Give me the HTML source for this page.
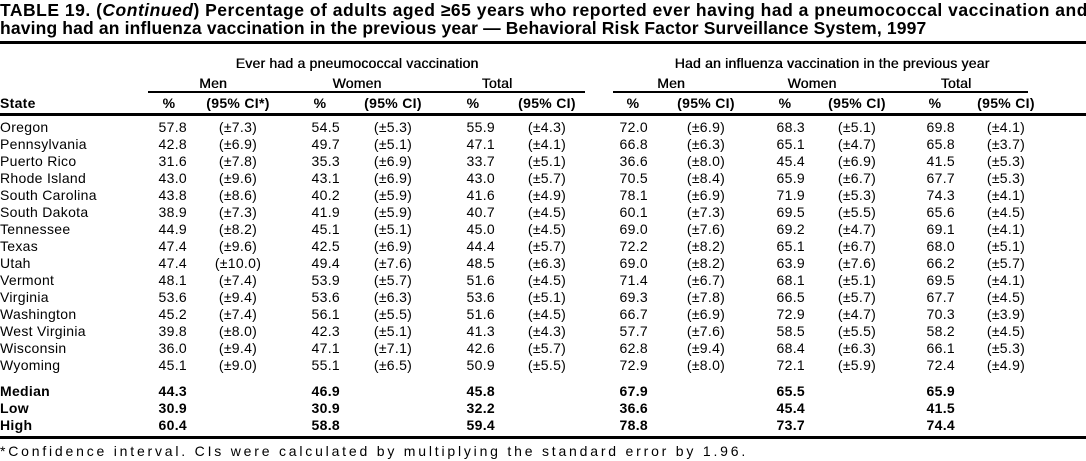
<!DOCTYPE html>
<html><head><meta charset="utf-8"><style>
body{margin:0;width:1086px;height:461px;overflow:hidden;background:#fff;font-family:"Liberation Sans",Arial,sans-serif;color:#000;position:relative}
.t{position:absolute;left:0;font-weight:bold;font-size:17.5px;white-space:nowrap;line-height:19px}
.rule{position:absolute;background:#000}
.r{position:absolute;left:0;width:1086px;height:17px;line-height:17px;font-size:14px;letter-spacing:0.3px;white-space:nowrap}
.r span{position:absolute;top:0}
.s{left:0}
.c1,.c2,.c3,.c4,.c5,.c6{width:50px;text-align:right}
.c1{left:137px}.c2{left:290px}.c3{left:445px}.c4{left:598px}.c5{left:755px}.c6{left:905px}
.d1,.d2,.d3,.d4,.d5,.d6{width:90px;text-align:center}
.d1{left:193px}.d2{left:348px}.d3{left:502px}.d4{left:661px}.d5{left:812px}.d6{left:961px}
.b{font-weight:bold}
.h{position:absolute;font-size:14px;white-space:nowrap;line-height:17px;text-align:center;letter-spacing:0.2px;text-shadow:0.4px 0 0 #000}
</style></head><body>
<div class="t" style="top:1px;letter-spacing:0.5px">TABLE 19. (<i>Continued</i>) Percentage of adults aged ≥65 years who reported ever having had a pneumococcal vaccination and</div>
<div class="t" style="top:19px;letter-spacing:0.15px">having had an influenza vaccination in the previous year — Behavioral Risk Factor Surveillance System, 1997</div>
<div class="rule" style="left:0;top:41px;width:1086px;height:3px"></div>

<div class="h" style="left:207px;width:300px;top:55px">Ever had a pneumococcal vaccination</div>
<div class="h" style="left:662px;width:340px;top:55px">Had an influenza vaccination in the previous year</div>
<div class="h" style="left:173px;width:80px;top:75px">Men</div>
<div class="h" style="left:317px;width:80px;top:75px">Women</div>
<div class="h" style="left:457px;width:80px;top:75px">Total</div>
<div class="h" style="left:631px;width:80px;top:75px">Men</div>
<div class="h" style="left:772px;width:80px;top:75px">Women</div>
<div class="h" style="left:916px;width:80px;top:75px">Total</div>
<div class="rule" style="left:148px;top:91px;width:437px;height:2px"></div>
<div class="rule" style="left:613px;top:91px;width:415px;height:2px"></div>

<div class="r b" style="top:95px"><span class="s">State</span>
<span class="c1" style="width:30px;left:154px;text-align:center">%</span><span class="d1">(95% CI*)</span>
<span class="c2" style="width:30px;left:305px;text-align:center">%</span><span class="d2">(95% CI)</span>
<span class="c3" style="width:30px;left:458px;text-align:center">%</span><span class="d3">(95% CI)</span>
<span class="c4" style="width:30px;left:618px;text-align:center">%</span><span class="d4">(95% CI)</span>
<span class="c5" style="width:30px;left:770px;text-align:center">%</span><span class="d5">(95% CI)</span>
<span class="c6" style="width:30px;left:920px;text-align:center">%</span><span class="d6">(95% CI)</span></div>
<div class="rule" style="left:0;top:113px;width:1086px;height:3px"></div>

<div class="r" style="top:119px"><span class="s">Oregon</span><span class="c1">57.8</span><span class="d1">(±7.3)</span><span class="c2">54.5</span><span class="d2">(±5.3)</span><span class="c3">55.9</span><span class="d3">(±4.3)</span><span class="c4">72.0</span><span class="d4">(±6.9)</span><span class="c5">68.3</span><span class="d5">(±5.1)</span><span class="c6">69.8</span><span class="d6">(±4.1)</span></div>
<div class="r" style="top:136px"><span class="s">Pennsylvania</span><span class="c1">42.8</span><span class="d1">(±6.9)</span><span class="c2">49.7</span><span class="d2">(±5.1)</span><span class="c3">47.1</span><span class="d3">(±4.1)</span><span class="c4">66.8</span><span class="d4">(±6.3)</span><span class="c5">65.1</span><span class="d5">(±4.7)</span><span class="c6">65.8</span><span class="d6">(±3.7)</span></div>
<div class="r" style="top:153px"><span class="s">Puerto Rico</span><span class="c1">31.6</span><span class="d1">(±7.8)</span><span class="c2">35.3</span><span class="d2">(±6.9)</span><span class="c3">33.7</span><span class="d3">(±5.1)</span><span class="c4">36.6</span><span class="d4">(±8.0)</span><span class="c5">45.4</span><span class="d5">(±6.9)</span><span class="c6">41.5</span><span class="d6">(±5.3)</span></div>
<div class="r" style="top:170px"><span class="s">Rhode Island</span><span class="c1">43.0</span><span class="d1">(±9.6)</span><span class="c2">43.1</span><span class="d2">(±6.9)</span><span class="c3">43.0</span><span class="d3">(±5.7)</span><span class="c4">70.5</span><span class="d4">(±8.4)</span><span class="c5">65.9</span><span class="d5">(±6.7)</span><span class="c6">67.7</span><span class="d6">(±5.3)</span></div>
<div class="r" style="top:187px"><span class="s">South Carolina</span><span class="c1">43.8</span><span class="d1">(±8.6)</span><span class="c2">40.2</span><span class="d2">(±5.9)</span><span class="c3">41.6</span><span class="d3">(±4.9)</span><span class="c4">78.1</span><span class="d4">(±6.9)</span><span class="c5">71.9</span><span class="d5">(±5.3)</span><span class="c6">74.3</span><span class="d6">(±4.1)</span></div>
<div class="r" style="top:204px"><span class="s">South Dakota</span><span class="c1">38.9</span><span class="d1">(±7.3)</span><span class="c2">41.9</span><span class="d2">(±5.9)</span><span class="c3">40.7</span><span class="d3">(±4.5)</span><span class="c4">60.1</span><span class="d4">(±7.3)</span><span class="c5">69.5</span><span class="d5">(±5.5)</span><span class="c6">65.6</span><span class="d6">(±4.5)</span></div>
<div class="r" style="top:221px"><span class="s">Tennessee</span><span class="c1">44.9</span><span class="d1">(±8.2)</span><span class="c2">45.1</span><span class="d2">(±5.1)</span><span class="c3">45.0</span><span class="d3">(±4.5)</span><span class="c4">69.0</span><span class="d4">(±7.6)</span><span class="c5">69.2</span><span class="d5">(±4.7)</span><span class="c6">69.1</span><span class="d6">(±4.1)</span></div>
<div class="r" style="top:238px"><span class="s">Texas</span><span class="c1">47.4</span><span class="d1">(±9.6)</span><span class="c2">42.5</span><span class="d2">(±6.9)</span><span class="c3">44.4</span><span class="d3">(±5.7)</span><span class="c4">72.2</span><span class="d4">(±8.2)</span><span class="c5">65.1</span><span class="d5">(±6.7)</span><span class="c6">68.0</span><span class="d6">(±5.1)</span></div>
<div class="r" style="top:255px"><span class="s">Utah</span><span class="c1">47.4</span><span class="d1">(±10.0)</span><span class="c2">49.4</span><span class="d2">(±7.6)</span><span class="c3">48.5</span><span class="d3">(±6.3)</span><span class="c4">69.0</span><span class="d4">(±8.2)</span><span class="c5">63.9</span><span class="d5">(±7.6)</span><span class="c6">66.2</span><span class="d6">(±5.7)</span></div>
<div class="r" style="top:272px"><span class="s">Vermont</span><span class="c1">48.1</span><span class="d1">(±7.4)</span><span class="c2">53.9</span><span class="d2">(±5.7)</span><span class="c3">51.6</span><span class="d3">(±4.5)</span><span class="c4">71.4</span><span class="d4">(±6.7)</span><span class="c5">68.1</span><span class="d5">(±5.1)</span><span class="c6">69.5</span><span class="d6">(±4.1)</span></div>
<div class="r" style="top:289px"><span class="s">Virginia</span><span class="c1">53.6</span><span class="d1">(±9.4)</span><span class="c2">53.6</span><span class="d2">(±6.3)</span><span class="c3">53.6</span><span class="d3">(±5.1)</span><span class="c4">69.3</span><span class="d4">(±7.8)</span><span class="c5">66.5</span><span class="d5">(±5.7)</span><span class="c6">67.7</span><span class="d6">(±4.5)</span></div>
<div class="r" style="top:306px"><span class="s">Washington</span><span class="c1">45.2</span><span class="d1">(±7.4)</span><span class="c2">56.1</span><span class="d2">(±5.5)</span><span class="c3">51.6</span><span class="d3">(±4.5)</span><span class="c4">66.7</span><span class="d4">(±6.9)</span><span class="c5">72.9</span><span class="d5">(±4.7)</span><span class="c6">70.3</span><span class="d6">(±3.9)</span></div>
<div class="r" style="top:323px"><span class="s">West Virginia</span><span class="c1">39.8</span><span class="d1">(±8.0)</span><span class="c2">42.3</span><span class="d2">(±5.1)</span><span class="c3">41.3</span><span class="d3">(±4.3)</span><span class="c4">57.7</span><span class="d4">(±7.6)</span><span class="c5">58.5</span><span class="d5">(±5.5)</span><span class="c6">58.2</span><span class="d6">(±4.5)</span></div>
<div class="r" style="top:340px"><span class="s">Wisconsin</span><span class="c1">36.0</span><span class="d1">(±9.4)</span><span class="c2">47.1</span><span class="d2">(±7.1)</span><span class="c3">42.6</span><span class="d3">(±5.7)</span><span class="c4">62.8</span><span class="d4">(±9.4)</span><span class="c5">68.4</span><span class="d5">(±6.3)</span><span class="c6">66.1</span><span class="d6">(±5.3)</span></div>
<div class="r" style="top:357px"><span class="s">Wyoming</span><span class="c1">45.1</span><span class="d1">(±9.0)</span><span class="c2">55.1</span><span class="d2">(±6.5)</span><span class="c3">50.9</span><span class="d3">(±5.5)</span><span class="c4">72.9</span><span class="d4">(±8.0)</span><span class="c5">72.1</span><span class="d5">(±5.9)</span><span class="c6">72.4</span><span class="d6">(±4.9)</span></div>

<div class="r b" style="top:383px"><span class="s">Median</span><span class="c1">44.3</span><span class="c2">46.9</span><span class="c3">45.8</span><span class="c4">67.9</span><span class="c5">65.5</span><span class="c6">65.9</span></div>
<div class="r b" style="top:400px"><span class="s">Low</span><span class="c1">30.9</span><span class="c2">30.9</span><span class="c3">32.2</span><span class="c4">36.6</span><span class="c5">45.4</span><span class="c6">41.5</span></div>
<div class="r b" style="top:417px"><span class="s">High</span><span class="c1">60.4</span><span class="c2">58.8</span><span class="c3">59.4</span><span class="c4">78.8</span><span class="c5">73.7</span><span class="c6">74.4</span></div>
<div class="rule" style="left:0;top:436px;width:1086px;height:3px"></div>
<div class="r" style="top:443px;font-size:14px;letter-spacing:2.8px"><span class="s">*Confidence interval. CIs were calculated by multiplying the standard error by 1.96.</span></div>
</body></html>
